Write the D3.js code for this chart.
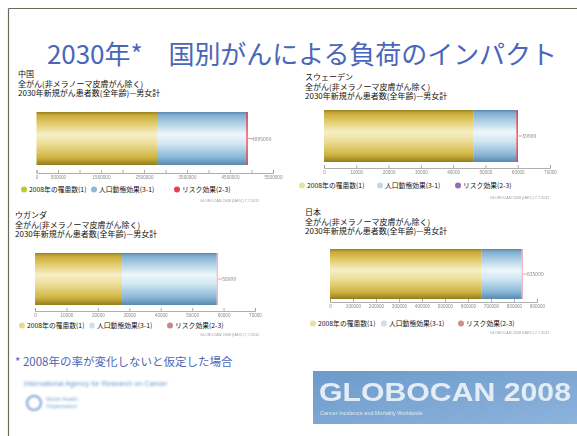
<!DOCTYPE html>
<html>
<head>
<meta charset="utf-8">
<script src="https://cdn.jsdelivr.net/npm/d3@7"></script>
<style>
  html, body { margin: 0; padding: 0; background: #ffffff; }
  svg { display: block; font-family: "Noto Sans CJK JP", "Noto Sans", sans-serif; }
</style>
</head>
<body>
<svg id="slide" width="577" height="436"></svg>
<script>
// Predicted new cancer cases in 2030, both sexes, all ages (excl. NMSC)
const countries = ["中国", "スウェーデン", "ウガンダ", "日本"];
const incidence2008 = [2802000, 46400, 27700, 660000];     // 2008年の罹患数(1)
const populationEffect = [2078000, 13200, 30100, 173000];  // 人口動態効果(3-1)
const riskEffect = [15000, 300, 200, 2000];                // リスク効果(2-3)
const axisMax = [5500000, 70000, 70000, 900000];
const tickStep = [500000, 10000, 10000, 100000];
const chinaTickLabels = [0, 500000, 1500000, 2500000, 3500000, 4500000, 5500000];
const seriesNames = ["2008年の罹患数(1)", "人口動態効果(3-1)", "リスク効果(2-3)"];
const subtitle1 = "全がん(非メラノーマ皮膚がん除く)";
const subtitle2 = "2030年新規がん患者数(全年齢)—男女計";

const svg = d3.select("#slide");
const defs = svg.append("defs");

// soft focus for the small print in the pasted chart images
defs.append("filter").attr("id", "soft").append("feGaussianBlur").attr("stdDeviation", 0.45);
defs.append("filter").attr("id", "softer").append("feGaussianBlur").attr("stdDeviation", 0.9);

// cylinder-style shading for the bar segments
function cyl(id, stops) {
  const g = defs.append("linearGradient").attr("id", id)
    .attr("x1", 0).attr("y1", 0).attr("x2", 0).attr("y2", 1);
  stops.forEach(([o, c]) => g.append("stop").attr("offset", o).attr("stop-color", c));
}
cyl("gYellow", [[0, "#96801e"], [0.06, "#c8aa38"], [0.22, "#e2cc6c"], [0.42, "#f6eec6"], [0.6, "#ecde98"], [0.86, "#d0b440"], [1, "#927c20"]]);
cyl("gBlue", [[0, "#5a88ad"], [0.06, "#82aed0"], [0.22, "#b0d2e6"], [0.42, "#eef7fb"], [0.6, "#d0e6f2"], [0.86, "#88b6d6"], [1, "#5a88ae"]]);
cyl("gRed", [[0, "#b02030"], [0.5, "#f05060"], [1, "#b02030"]]);

// slide frame
svg.append("line").attr("x1", 8.5).attr("y1", 8.5).attr("x2", 577).attr("y2", 8.5)
  .attr("stroke", "#6a6a5c").attr("stroke-width", 1.2);
svg.append("line").attr("x1", 8.5).attr("y1", 8.5).attr("x2", 8.5).attr("y2", 436)
  .attr("stroke", "#6a6a5c").attr("stroke-width", 1.2);

// title
svg.append("text").attr("x", 47).attr("y", 63.5)
  .attr("font-size", 26).attr("fill", "#4a66b8")
  .attr("textLength", 510).attr("lengthAdjust", "spacing")
  .text("2030年*　国別がんによる負荷のインパクト");

// panel layouts
const panels = [
  { hx: 18, hy: 77, x0: 36.5, x1: 273, barTop: 112, barH: 53, axisY: 173, legY: 192,
    leg: [[24, 29], [94, 99], [177, 182]], legCol: ["#b6cc2c", "#8cbad8", "#e6404e"], src: [200, 202] },
  { hx: 305, hy: 80, x0: 324, x1: 550, barTop: 110, barH: 52, axisY: 168, legY: 188,
    leg: [[302, 307], [380, 385], [458, 463]], legCol: ["#e4e49a", "#c6d6e2", "#9a6cb0"], src: [490, 199] },
  { hx: 15, hy: 218, x0: 35, x1: 255, barTop: 253, barH: 52, axisY: 311, legY: 328,
    leg: [[22, 27], [92, 97], [170, 175]], legCol: ["#e6da8e", "#d0e0ea", "#c48a8a"], src: [200, 336] },
  { hx: 305, hy: 215, x0: 330, x1: 537, barTop: 249, barH: 50, axisY: 302, legY: 326,
    leg: [[313, 318], [384, 389], [461, 466]], legCol: ["#e6e09a", "#d0dde6", "#d08c90"], src: [490, 334] }
];

panels.forEach((p, i) => {
  const g = svg.append("g");
  const x = d3.scaleLinear().domain([0, axisMax[i]]).range([p.x0, p.x1]);

  // heading lines
  [countries[i], subtitle1, subtitle2].forEach((t, k) => {
    g.append("text").attr("x", p.hx).attr("y", p.hy + k * 9.5)
      .attr("font-size", 8).attr("fill", "#111").text(t);
  });

  // stacked bar
  const vals = [incidence2008[i], populationEffect[i], riskEffect[i]];
  const fills = ["url(#gYellow)", "url(#gBlue)", "url(#gRed)"];
  let acc = 0;
  const segs = vals.map((v, k) => { const s = { a: acc, b: acc + v, k }; acc += v; return s; });
  g.selectAll("rect.seg").data(segs).join("rect").attr("class", "seg")
    .attr("x", d => x(d.a))
    .attr("y", p.barTop)
    .attr("width", d => Math.max(d.k === 2 ? 1.4 : 0, x(d.b) - x(d.a)))
    .attr("height", p.barH)
    .attr("fill", d => fills[d.k])
    .attr("opacity", d => (d.k === 2 && i > 1) ? 0.35 : 1);

  // total value label with leader
  const total = acc;
  const ly = p.barTop + p.barH / 2;
  g.append("line").attr("x1", x(total) + 1).attr("x2", x(total) + 5)
    .attr("y1", ly).attr("y2", ly).attr("stroke", "#e07070").attr("stroke-width", 0.7);
  g.append("text").attr("x", x(total) + 5).attr("y", ly + 2)
    .attr("font-size", 5).attr("fill", "#888").attr("filter", "url(#soft)")
    .text(d3.format("d")(total));

  // axis
  const ticks = d3.range(0, axisMax[i] + 1, tickStep[i]);
  const labelVals = i === 0 ? chinaTickLabels : ticks;
  const axis = d3.axisBottom(x).tickValues(ticks).tickSize(-3).tickPadding(3)
    .tickFormat(v => labelVals.includes(v) ? d3.format("d")(v) : "");
  const ax = g.append("g").attr("transform", `translate(0,${p.axisY})`).call(axis)
    .attr("filter", "url(#soft)");
  ax.select(".domain").attr("stroke", "#9a9a9a").attr("stroke-width", 0.8);
  ax.selectAll(".tick line").attr("stroke", "#9a9a9a").attr("stroke-width", 0.8);
  ax.selectAll(".tick text").attr("font-size", 4.6).attr("fill", "#8a8a8a")
    .attr("font-family", "'Liberation Sans', sans-serif");

  // legend
  seriesNames.forEach((name, k) => {
    g.append("circle").attr("cx", p.leg[k][0]).attr("cy", p.legY - 2.4).attr("r", 3)
      .attr("fill", p.legCol[k]).attr("filter", "url(#soft)");
    g.append("text").attr("x", p.leg[k][1]).attr("y", p.legY)
      .attr("font-size", 6.8).attr("fill", "#111").text(name);
  });

  // source line of the chart
  g.append("text").attr("x", p.src[0]).attr("y", p.src[1])
    .attr("font-size", 3.8).attr("fill", "#9aa0a8").attr("filter", "url(#soft)")
    .attr("font-family", "'Liberation Sans', sans-serif")
    .text("GLOBOCAN 2008 (IARC) 7.7.2011");
});

// footnote
svg.append("text").attr("x", 15).attr("y", 366)
  .attr("font-size", 11.5).attr("fill", "#4a66b8")
  .text("* 2008年の率が変化しないと仮定した場合");

// IARC / WHO mark
const logo = svg.append("g").attr("filter", "url(#softer)");
logo.append("text").attr("x", 24).attr("y", 386).attr("font-size", 7.2).attr("fill", "#6a9ad0")
  .attr("font-family", "'Liberation Sans', sans-serif")
  .text("International Agency for Research on Cancer");
logo.append("circle").attr("cx", 34).attr("cy", 403).attr("r", 7).attr("fill", "none")
  .attr("stroke", "#7aa4d6").attr("stroke-width", 2);
logo.append("text").attr("x", 46).attr("y", 401).attr("font-size", 5.5).attr("fill", "#7aa4d6")
  .attr("font-family", "'Liberation Sans', sans-serif").text("World Health");
logo.append("text").attr("x", 46).attr("y", 408).attr("font-size", 5.5).attr("fill", "#7aa4d6")
  .attr("font-family", "'Liberation Sans', sans-serif").text("Organization");

// GLOBOCAN banner
const gb = defs.append("linearGradient").attr("id", "gBanner").attr("x1", 0).attr("y1", 0).attr("x2", 1).attr("y2", 1);
gb.append("stop").attr("offset", 0).attr("stop-color", "#6d9acb");
gb.append("stop").attr("offset", 1).attr("stop-color", "#8db3dc");
svg.append("rect").attr("x", 313).attr("y", 371).attr("width", 264).attr("height", 53).attr("fill", "url(#gBanner)");
svg.append("text").attr("x", 319).attr("y", 401).attr("font-size", 26).attr("font-weight", "bold")
  .attr("fill", "#e4ecf6").attr("font-family", "'Liberation Sans', sans-serif")
  .attr("textLength", 252).attr("lengthAdjust", "spacingAndGlyphs")
  .attr("filter", "url(#soft)")
  .text("GLOBOCAN 2008");
svg.append("text").attr("x", 320).attr("y", 415).attr("font-size", 5.5)
  .attr("fill", "#dde8f4").attr("font-family", "'Liberation Sans', sans-serif")
  .attr("filter", "url(#soft)")
  .text("Cancer Incidence and Mortality Worldwide");
</script>
</body>
</html>
